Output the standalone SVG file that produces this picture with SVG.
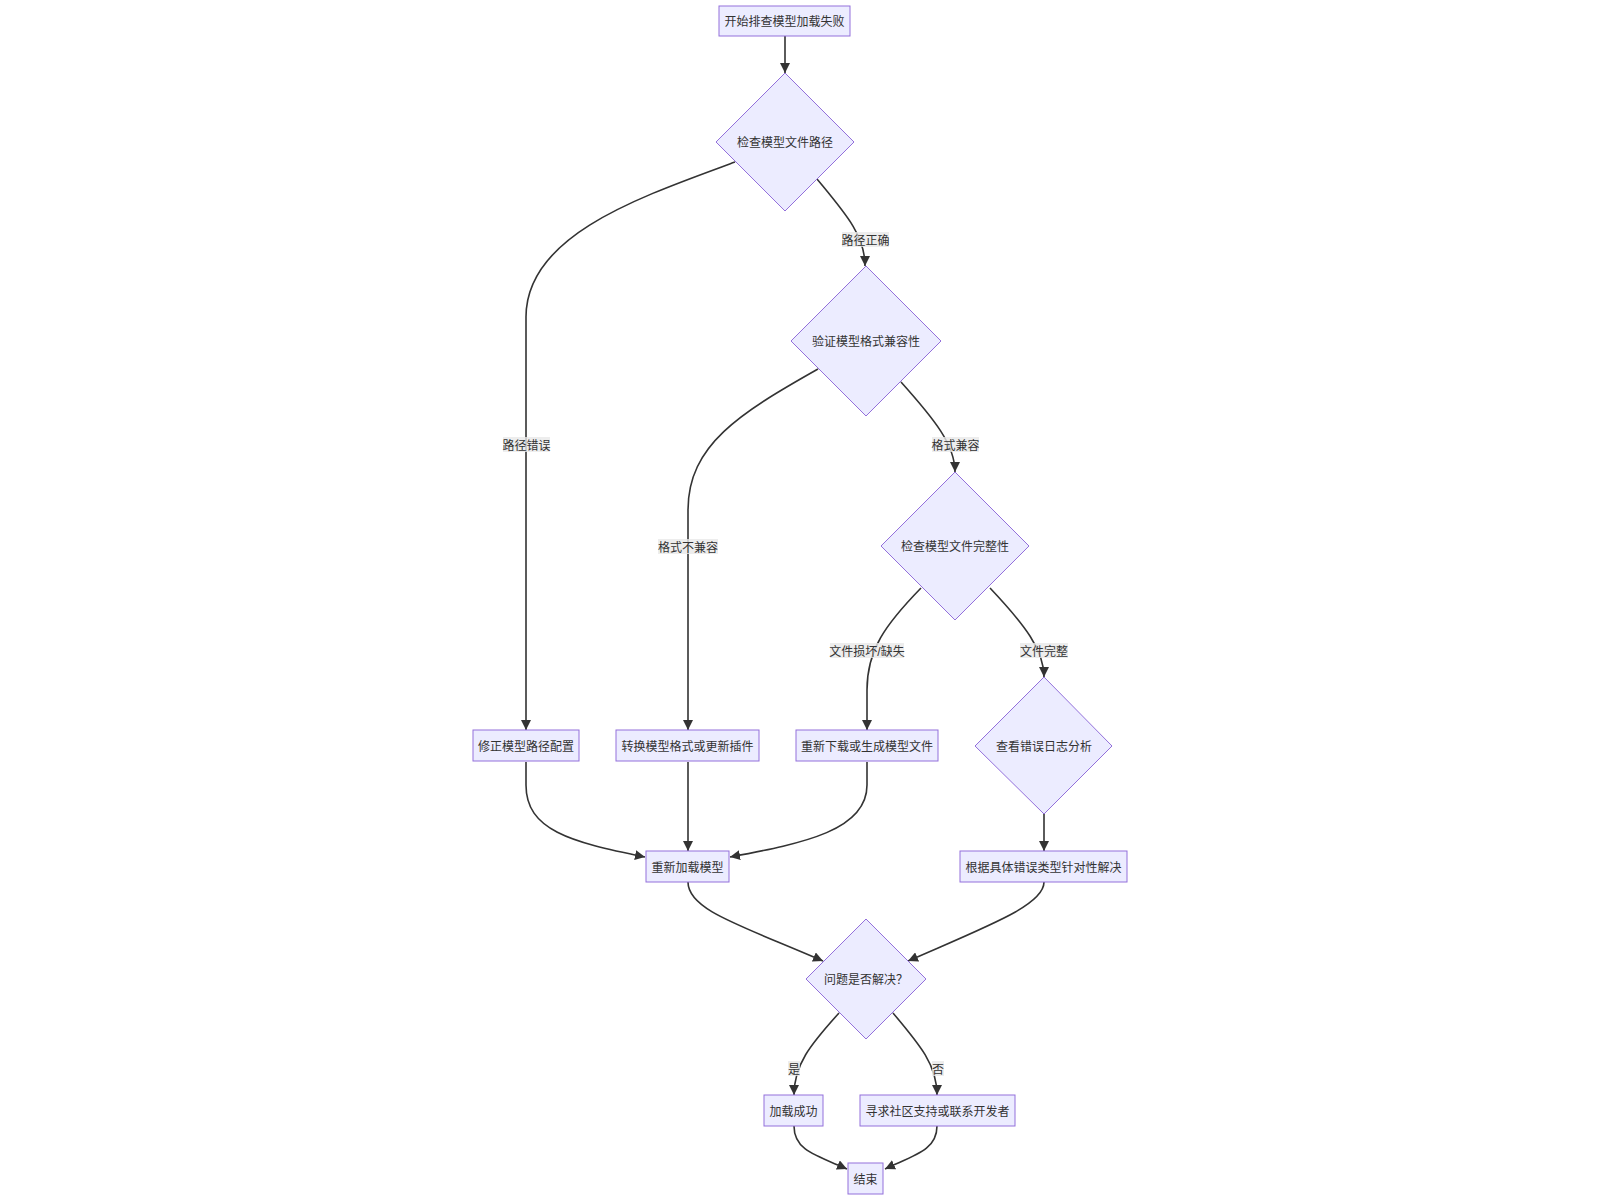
<svg xmlns="http://www.w3.org/2000/svg" width="1600" height="1200" viewBox="0 0 1600 1200">
<style>
.n{fill:#ECECFF;stroke:#9370DB;stroke-width:1}
.t{font-family:"Liberation Sans","Noto Sans CJK SC",sans-serif;font-size:12px;fill:#333;text-anchor:middle;dominant-baseline:central}
.e{fill:none;stroke:#333;stroke-width:1.6}
.lb{fill:#e8e8e8;opacity:0.8}
</style>
<defs>
<marker id="ah" viewBox="0 0 10 10" refX="10" refY="5" markerWidth="10" markerHeight="10" markerUnits="userSpaceOnUse" orient="auto">
<path d="M0,0 L10,5 L0,10 z" fill="#333"/>
</marker>
</defs>
<rect width="1600" height="1200" fill="#fff"/>
<g id="edges">
<path class="e" d="M785,36 L785,73" marker-end="url(#ah)"/>
<path class="e" d="M735,162 C640,197 526,235 526,317 L526,730" marker-end="url(#ah)"/>
<path class="e" d="M817,179 C845,213 865,235 865,266" marker-end="url(#ah)"/>
<path class="e" d="M818,369 C740,413 688,445 688,510 L688,730" marker-end="url(#ah)"/>
<path class="e" d="M901,382 C935,420 955,445 955,472" marker-end="url(#ah)"/>
<path class="e" d="M921,588 C885,625 867,650 867,690 L867,730" marker-end="url(#ah)"/>
<path class="e" d="M990,588 C1025,625 1044,650 1044,677" marker-end="url(#ah)"/>
<path class="e" d="M526,762 L526,785 C526,830 570,842 645,857" marker-end="url(#ah)"/>
<path class="e" d="M688,762 L688,851" marker-end="url(#ah)"/>
<path class="e" d="M867,762 L867,785 C867,830 805,843 730,857" marker-end="url(#ah)"/>
<path class="e" d="M1044,814 L1044,851" marker-end="url(#ah)"/>
<path class="e" d="M688,882 C688,910 740,925 823,961" marker-end="url(#ah)"/>
<path class="e" d="M1044,882 C1044,905 990,925 908,961" marker-end="url(#ah)"/>
<path class="e" d="M839,1013 C810,1045 794,1065 794,1095" marker-end="url(#ah)"/>
<path class="e" d="M893,1013 C920,1045 937,1065 937,1095" marker-end="url(#ah)"/>
<path class="e" d="M794,1126 C794,1150 815,1155 847,1169" marker-end="url(#ah)"/>
<path class="e" d="M937,1126 C937,1150 915,1155 885,1169" marker-end="url(#ah)"/>
</g>
<g id="edge-labels">
<rect class="lb" x="842" y="232" width="47" height="15"/><text class="t" x="865.5" y="240.5">路径正确</text>
<rect class="lb" x="503" y="437" width="47" height="15"/><text class="t" x="526.5" y="445.5">路径错误</text>
<rect class="lb" x="932" y="437" width="47" height="15"/><text class="t" x="955.5" y="445.5">格式兼容</text>
<rect class="lb" x="658" y="539" width="60" height="15"/><text class="t" x="688" y="547.5">格式不兼容</text>
<rect class="lb" x="830" y="643" width="74" height="15"/><text class="t" x="867" y="651.5">文件损坏/缺失</text>
<rect class="lb" x="1020" y="643" width="48" height="15"/><text class="t" x="1044" y="651.5">文件完整</text>
<rect class="lb" x="788" y="1061" width="12" height="15"/><text class="t" x="794" y="1069.5">是</text>
<rect class="lb" x="932" y="1061" width="12" height="15"/><text class="t" x="938" y="1069.5">否</text>
</g>
<g id="start"><rect class="n" x="719" y="6" width="131" height="30"/><text class="t" x="784.5" y="22">开始排查模型加载失败</text></g>
<g id="d1"><polygon class="n" points="785,73 854,142 785,211 716,142"/><text class="t" x="785" y="143">检查模型文件路径</text></g>
<g id="d2"><polygon class="n" points="866,266 941,341 866,416 791,341"/><text class="t" x="866" y="342">验证模型格式兼容性</text></g>
<g id="d3"><polygon class="n" points="955,472 1029,546 955,620 881,546"/><text class="t" x="955" y="547">检查模型文件完整性</text></g>
<g id="d4"><polygon class="n" points="1044,677 1112,746 1044,814 975,746"/><text class="t" x="1044" y="747">查看错误日志分析</text></g>
<g id="fixpath"><rect class="n" x="473" y="730" width="106" height="31"/><text class="t" x="526" y="746.5">修正模型路径配置</text></g>
<g id="convert"><rect class="n" x="616" y="730" width="143" height="31"/><text class="t" x="687.5" y="746.5">转换模型格式或更新插件</text></g>
<g id="redownload"><rect class="n" x="796" y="730" width="142" height="31"/><text class="t" x="867" y="746.5">重新下载或生成模型文件</text></g>
<g id="specific"><rect class="n" x="960" y="851" width="167" height="31"/><text class="t" x="1043.5" y="867.5">根据具体错误类型针对性解决</text></g>
<g id="reload"><rect class="n" x="646" y="851" width="83" height="31"/><text class="t" x="687.5" y="867.5">重新加载模型</text></g>
<g id="d5"><polygon class="n" points="866,919 926,979 866,1039 806,979"/><text class="t" x="866" y="980">问题是否解决？</text></g>
<g id="success"><rect class="n" x="764" y="1095" width="59" height="31"/><text class="t" x="793.5" y="1111.5">加载成功</text></g>
<g id="support"><rect class="n" x="860" y="1095" width="155" height="31"/><text class="t" x="937.5" y="1111.5">寻求社区支持或联系开发者</text></g>
<g id="end"><rect class="n" x="848" y="1163" width="35" height="31"/><text class="t" x="865.5" y="1179.5">结束</text></g>
</svg>
